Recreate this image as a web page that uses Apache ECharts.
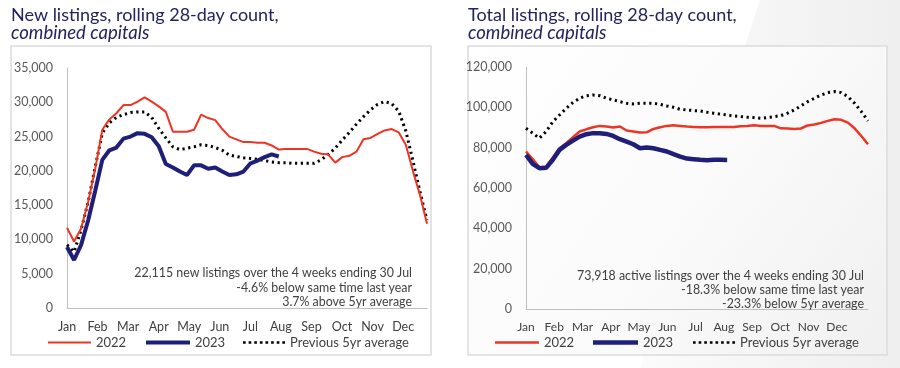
<!DOCTYPE html>
<html>
<head>
<meta charset="utf-8">
<script src="https://cdn.jsdelivr.net/npm/echarts@6/dist/echarts.min.js"></script>
<style>
html,body{margin:0;padding:0;background:#fff;}
#c{width:900px;height:368px;}
</style>
</head>
<body>
<div id="c"></div>
<script>
// ---- Data ----
var months = ['Jan','Feb','Mar','Apr','May','Jun','Jul','Aug','Sep','Oct','Nov','Dec'];
var weeks = [];
for (var w = 1; w <= 52; w++) weeks.push('W' + w);

// New listings, rolling 28-day count
var newListings2022 = [11700,9700,11600,15500,20300,26000,27500,28400,29600,29600,30100,30700,30100,29400,28600,25700,25700,25700,26000,28200,27700,27400,26100,25000,24600,24200,24200,24100,24100,23700,23100,23200,23200,23200,23200,22800,22500,22400,21200,22000,22200,22800,24600,24800,25400,25900,26100,25600,23800,20000,16500,12300];
var newListings2023 = [8900,7000,9200,12800,17100,21600,23000,23400,24700,25000,25500,25400,24900,23600,21000,20500,19900,19400,20800,20800,20300,20500,19900,19400,19500,19900,21100,21500,22000,22400,22100];
var newListings5yr = [9200,8200,11400,15500,20600,25500,27000,27800,28200,28500,28600,28600,27800,26200,24800,23500,23100,23300,23500,23800,23700,23400,23000,22300,22100,21900,21800,21700,21500,21300,21200,21200,21100,21100,21100,21100,21600,22400,23300,24500,25600,26800,27900,28900,29700,30100,29800,28700,25800,21500,17000,12800];

// Total listings, rolling 28-day count
var totalListings2022 = [78100,74300,70300,70600,75100,79700,82200,85200,88000,89100,90100,90800,90500,90000,90500,88500,88000,87500,87600,89300,90100,90800,91100,90800,90500,90300,90100,90100,90300,90300,90300,90300,90600,90800,91100,90800,90800,90800,89600,89500,89300,89500,91000,91500,92300,93300,94100,93800,92400,89600,85800,81700];
var totalListings2023 = [76400,72000,69800,70000,74000,78900,81400,83500,85500,86700,87200,87200,86800,85800,84200,83000,81700,79700,80100,79700,78900,78100,76800,75600,74600,74300,74000,73800,74000,74000,73918];
var totalListings5yr = [89600,87200,84700,88000,92900,96200,99500,102400,104500,105700,106100,105800,104500,103700,102800,102000,101700,102000,102000,102000,101500,100700,100000,99000,98700,98400,98200,97600,97100,96600,96200,95700,95400,95100,94900,94600,94900,95400,95900,97100,98700,100700,102800,104500,106100,107300,107800,107300,105300,102000,97900,93300];

var seriesNames = ['2022', '2023', 'Previous 5yr average'];
var leftTitle = 'New listings, rolling 28-day count,';
var rightTitle = 'Total listings, rolling 28-day count,';
var subTitle = 'combined capitals';
var leftNote = '22,115 new listings over the 4 weeks ending 30 Jul\n-4.6% below same time last year\n3.7% above 5yr average';
var rightNote = '73,918 active listings over the 4 weeks ending 30 Jul\n-18.3% below same time last year\n-23.3% below 5yr average';

// ---- Styles ----
var FONT = 'Lato, "Open Sans", sans-serif';
var RED = '#ee3524';
var BLUE = '#1f1f7a';
var DOT = '#000000';
var TITLE_C = '#23235f';
var DOT_ICON = (function(){
  var p = 'path://';
  for (var i = 0; i < 8; i++) { var x = (i*2.1).toFixed(2); p += 'M' + x + ',0h1v1h-1z'; }
  return p;
})();

function fmt(v){ return v.toLocaleString('en-US'); }

var chart = echarts.init(document.getElementById('c'), null, {renderer:'canvas'});

function yAxis(grid, max, interval){
  return {
    type:'value', gridIndex:grid, min:0, max:max, interval:interval,
    axisLine:{show:true, lineStyle:{color:'#bfbfbf', width:1}},
    axisTick:{show:false}, splitLine:{show:false},
    axisLabel:{color:'#595959', fontFamily:FONT, fontSize:12.5, margin:14, formatter:function(v){return fmt(v);}}
  };
}
function weekAxis(grid){
  return {
    type:'category', gridIndex:grid, data:weeks, boundaryGap:false,
    axisLine:{show:true, lineStyle:{color:'#bfbfbf', width:1}},
    axisTick:{show:false}, axisLabel:{show:false}
  };
}
function monthAxis(grid, max, fs){
  return {
    type:'value', gridIndex:grid, min:0, max:max, interval:1, position:'bottom',
    axisLine:{show:false}, axisTick:{show:false}, splitLine:{show:false},
    axisLabel:{color:'#404040', fontFamily:FONT, fontSize:fs, margin:12, showMaxLabel:false,
      formatter:function(v){ return (Math.abs(v-Math.round(v))<1e-6 && months[Math.round(v)]) ? months[Math.round(v)] : ''; }}
  };
}
function line(name, data, xi, yi, color, width, type){
  return {
    name:name, type:'line', xAxisIndex:xi, yAxisIndex:yi, data:data,
    symbol:'none', smooth:false, silent:true,
    lineStyle:{color:color, width:width, type:type || 'solid', cap:'butt'},
    itemStyle:{color:color}
  };
}
function legendItem(left, name, icon, w, h, color){
  return {
    left:left, top:336, padding:0, itemWidth:w, itemHeight:h, selectedMode:false,
    data:[{name:name, icon:icon, itemStyle:{color:color, borderWidth:0}}],
    textStyle:{fontFamily:FONT, fontSize:13, color:'#404040'}
  };
}

var option = {
  backgroundColor:'#ffffff',
  animation:false,
  textStyle:{fontFamily:FONT},
  graphic:[
    {type:'polygon', silent:true, z:-10, shape:{points:[[760,0],[900,0],[900,368],[640,368]]},
      style:{fill:{type:'linear',x:0,y:0,x2:1,y2:0,colorStops:[{offset:0,color:'#fbfbfb'},{offset:1,color:'#efefef'}]}}},
    {type:'rect', silent:true, z:-5, shape:{x:11,y:46,width:420,height:309}, style:{fill:'#ffffff', stroke:'#dcdcdc', lineWidth:1.5}},
    {type:'rect', silent:true, z:-5, shape:{x:468,y:46,width:419,height:309},
      style:{fill:{type:'linear',x:0,y:0,x2:1,y2:1,colorStops:[{offset:0,color:'#ffffff'},{offset:0.55,color:'#fafafa'},{offset:1,color:'#f0f0f0'}]}, stroke:'#dcdcdc', lineWidth:1.5}},
    {type:'text', silent:true, z:10, style:{x:412, y:266, text:leftNote, align:'right', verticalAlign:'top', fill:'#404040', font:'12.4px '+FONT, lineHeight:14.5}},
    {type:'text', silent:true, z:10, style:{x:864, y:269, text:rightNote, align:'right', verticalAlign:'top', fill:'#404040', font:'12.4px '+FONT, lineHeight:14}}
  ],
  title:[
    {left:11, top:7, text:leftTitle, subtext:subTitle, itemGap:0, padding:0,
      textStyle:{fontFamily:FONT, fontSize:18, fontWeight:'normal', color:TITLE_C, lineHeight:16},
      subtextStyle:{fontFamily:FONT, fontSize:18.5, fontStyle:'italic', color:TITLE_C, lineHeight:16}},
    {left:468, top:7, text:rightTitle, subtext:subTitle, itemGap:0, padding:0,
      textStyle:{fontFamily:FONT, fontSize:18, fontWeight:'normal', color:TITLE_C, lineHeight:16},
      subtextStyle:{fontFamily:FONT, fontSize:18.5, fontStyle:'italic', color:TITLE_C, lineHeight:16}}
  ],
  legend:[
    legendItem(48, seriesNames[0], 'rect', 43, 2, RED),
    legendItem(146, seriesNames[1], 'rect', 44, 4, BLUE),
    legendItem(243, seriesNames[2], DOT_ICON, 42, 2.7, DOT),
    legendItem(495, seriesNames[0], 'rect', 44, 2.5, RED),
    legendItem(593, seriesNames[1], 'rect', 45, 4.5, BLUE),
    legendItem(693, seriesNames[2], DOT_ICON, 42, 2.7, DOT)
  ],
  grid:[
    {left:67, top:68, width:360, height:240, containLabel:false},
    {left:526, top:67, width:342, height:242, containLabel:false}
  ],
  xAxis:[ weekAxis(0), monthAxis(0, 11.78, 12.5), weekAxis(1), monthAxis(1, 12.1, 12) ],
  yAxis:[ yAxis(0, 35000, 5000), yAxis(1, 120000, 20000) ],
  series:[
    line(seriesNames[2], newListings5yr, 0, 0, DOT, 3, [2.2, 3.6]),
    line(seriesNames[0], newListings2022, 0, 0, RED, 2),
    line(seriesNames[1], newListings2023, 0, 0, BLUE, 4),
    line(seriesNames[2], totalListings5yr, 2, 1, DOT, 3, [2.2, 3.6]),
    line(seriesNames[0], totalListings2022, 2, 1, RED, 2.5),
    line(seriesNames[1], totalListings2023, 2, 1, BLUE, 4.5)
  ]
};
chart.setOption(option);
</script>
</body>
</html>
